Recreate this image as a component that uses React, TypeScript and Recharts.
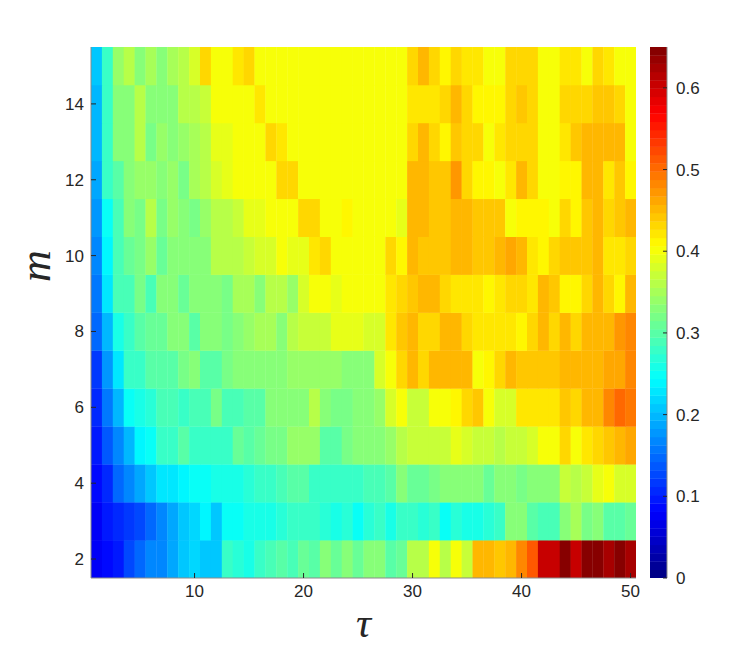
import { Label, Scatter, ScatterChart, XAxis, YAxis } from "recharts"

// lag τ along x, embedding dimension m along y
const TAU = [
  1, 2, 3, 4, 5, 6, 7, 8, 9, 10, 11, 12, 13, 14, 15, 16, 17, 18, 19, 20, 21, 22, 23, 24, 25,
  26, 27, 28, 29, 30, 31, 32, 33, 34, 35, 36, 37, 38, 39, 40, 41, 42, 43, 44, 45, 46, 47, 48, 49, 50,
]
const M = [2, 3, 4, 5, 6, 7, 8, 9, 10, 11, 12, 13, 14, 15]

// one row per m, values for τ = 1..50
const ROW_M15 = [
  0.21, 0.28, 0.345, 0.36, 0.335, 0.355, 0.325, 0.35, 0.365, 0.385, 0.43, 0.405, 0.405, 0.42, 0.43, 0.405, 0.405, 0.405, 0.405, 0.405, 0.405, 0.405, 0.405, 0.405, 0.405,
  0.405, 0.405, 0.405, 0.405, 0.43, 0.447, 0.43, 0.415, 0.435, 0.42, 0.42, 0.405, 0.405, 0.43, 0.43, 0.43, 0.405, 0.405, 0.425, 0.425, 0.405, 0.435, 0.42, 0.405, 0.405,
]
const ROW_M14 = [
  0.2, 0.28, 0.325, 0.33, 0.365, 0.335, 0.335, 0.325, 0.36, 0.36, 0.375, 0.405, 0.405, 0.405, 0.405, 0.42, 0.405, 0.405, 0.405, 0.405, 0.405, 0.405, 0.405, 0.405, 0.405,
  0.405, 0.405, 0.405, 0.405, 0.425, 0.425, 0.425, 0.435, 0.45, 0.43, 0.415, 0.415, 0.415, 0.43, 0.44, 0.43, 0.405, 0.405, 0.43, 0.43, 0.43, 0.437, 0.437, 0.43, 0.405,
]
const ROW_M13 = [
  0.2, 0.28, 0.325, 0.325, 0.365, 0.315, 0.34, 0.325, 0.345, 0.35, 0.365, 0.39, 0.39, 0.405, 0.405, 0.405, 0.43, 0.42, 0.405, 0.405, 0.405, 0.405, 0.405, 0.405, 0.405,
  0.405, 0.405, 0.405, 0.405, 0.43, 0.447, 0.43, 0.41, 0.44, 0.43, 0.43, 0.405, 0.42, 0.43, 0.43, 0.43, 0.405, 0.405, 0.425, 0.437, 0.447, 0.447, 0.447, 0.447, 0.405,
]
const ROW_M12 = [
  0.185, 0.28, 0.3, 0.325, 0.345, 0.345, 0.33, 0.34, 0.32, 0.35, 0.36, 0.385, 0.39, 0.405, 0.405, 0.405, 0.405, 0.43, 0.43, 0.405, 0.405, 0.405, 0.405, 0.405, 0.405,
  0.405, 0.405, 0.405, 0.405, 0.447, 0.447, 0.44, 0.44, 0.47, 0.43, 0.41, 0.41, 0.405, 0.425, 0.447, 0.43, 0.405, 0.405, 0.41, 0.41, 0.447, 0.447, 0.425, 0.437, 0.41,
]
const ROW_M11 = [
  0.175, 0.245, 0.29, 0.325, 0.315, 0.365, 0.32, 0.34, 0.325, 0.32, 0.34, 0.36, 0.36, 0.37, 0.39, 0.39, 0.405, 0.405, 0.405, 0.43, 0.43, 0.405, 0.405, 0.415, 0.405,
  0.405, 0.405, 0.405, 0.395, 0.447, 0.447, 0.437, 0.437, 0.455, 0.455, 0.437, 0.437, 0.437, 0.405, 0.415, 0.415, 0.415, 0.405, 0.43, 0.415, 0.437, 0.455, 0.43, 0.437, 0.447,
]
const ROW_M10 = [
  0.165, 0.24, 0.29, 0.31, 0.315, 0.34, 0.31, 0.325, 0.325, 0.325, 0.325, 0.36, 0.36, 0.365, 0.37, 0.38, 0.38, 0.405, 0.395, 0.395, 0.42, 0.43, 0.405, 0.405, 0.405,
  0.405, 0.405, 0.43, 0.415, 0.45, 0.44, 0.44, 0.44, 0.45, 0.45, 0.44, 0.44, 0.45, 0.46, 0.45, 0.425, 0.415, 0.43, 0.437, 0.437, 0.437, 0.455, 0.425, 0.425, 0.43,
]
const ROW_M9 = [
  0.155, 0.225, 0.285, 0.29, 0.315, 0.29, 0.33, 0.33, 0.31, 0.325, 0.325, 0.325, 0.32, 0.35, 0.35, 0.33, 0.36, 0.36, 0.345, 0.38, 0.405, 0.405, 0.39, 0.405, 0.405,
  0.405, 0.405, 0.42, 0.43, 0.437, 0.447, 0.447, 0.43, 0.425, 0.425, 0.425, 0.41, 0.425, 0.435, 0.435, 0.425, 0.447, 0.437, 0.415, 0.415, 0.43, 0.455, 0.43, 0.415, 0.457,
]
const ROW_M8 = [
  0.145, 0.2, 0.26, 0.275, 0.3, 0.31, 0.31, 0.33, 0.33, 0.3, 0.33, 0.33, 0.32, 0.325, 0.34, 0.35, 0.35, 0.33, 0.36, 0.375, 0.375, 0.375, 0.39, 0.395, 0.395,
  0.385, 0.385, 0.425, 0.437, 0.447, 0.435, 0.435, 0.447, 0.447, 0.43, 0.425, 0.425, 0.425, 0.425, 0.415, 0.43, 0.45, 0.435, 0.45, 0.435, 0.45, 0.457, 0.457, 0.47, 0.48,
]
const ROW_M7 = [
  0.12, 0.18, 0.225, 0.275, 0.275, 0.3, 0.3, 0.3, 0.315, 0.325, 0.3, 0.3, 0.315, 0.325, 0.325, 0.325, 0.33, 0.33, 0.34, 0.34, 0.34, 0.34, 0.34, 0.33, 0.33,
  0.325, 0.38, 0.405, 0.43, 0.447, 0.43, 0.447, 0.447, 0.455, 0.447, 0.405, 0.41, 0.43, 0.447, 0.44, 0.44, 0.44, 0.44, 0.45, 0.447, 0.447, 0.45, 0.465, 0.465, 0.48,
]
const ROW_M6 = [
  0.11, 0.155, 0.2, 0.245, 0.26, 0.27, 0.285, 0.29, 0.275, 0.29, 0.29, 0.315, 0.29, 0.285, 0.3, 0.3, 0.325, 0.325, 0.33, 0.33, 0.36, 0.33, 0.32, 0.32, 0.325,
  0.325, 0.34, 0.38, 0.405, 0.37, 0.37, 0.405, 0.405, 0.415, 0.43, 0.437, 0.405, 0.385, 0.385, 0.425, 0.425, 0.425, 0.425, 0.44, 0.43, 0.45, 0.455, 0.48, 0.5, 0.49,
]
const ROW_M5 = [
  0.095, 0.135, 0.17, 0.2, 0.24, 0.245, 0.275, 0.275, 0.3, 0.275, 0.28, 0.28, 0.28, 0.31, 0.3, 0.31, 0.32, 0.32, 0.34, 0.345, 0.345, 0.3, 0.3, 0.32, 0.325,
  0.33, 0.33, 0.34, 0.365, 0.375, 0.375, 0.37, 0.37, 0.39, 0.38, 0.375, 0.375, 0.36, 0.37, 0.37, 0.38, 0.4, 0.405, 0.43, 0.405, 0.42, 0.43, 0.437, 0.447, 0.46,
]
const ROW_M4 = [
  0.09, 0.11, 0.145, 0.17, 0.185, 0.21, 0.23, 0.23, 0.24, 0.245, 0.25, 0.26, 0.26, 0.26, 0.27, 0.275, 0.28, 0.29, 0.3, 0.3, 0.28, 0.275, 0.275, 0.275, 0.275,
  0.285, 0.29, 0.3, 0.325, 0.31, 0.31, 0.32, 0.33, 0.33, 0.33, 0.325, 0.31, 0.325, 0.325, 0.32, 0.325, 0.325, 0.33, 0.37, 0.36, 0.37, 0.39, 0.4, 0.38, 0.38,
]
const ROW_M3 = [
  0.08, 0.095, 0.11, 0.12, 0.13, 0.145, 0.165, 0.185, 0.205, 0.22, 0.24, 0.21, 0.245, 0.245, 0.26, 0.26, 0.26, 0.27, 0.275, 0.275, 0.275, 0.27, 0.26, 0.27, 0.245,
  0.27, 0.275, 0.26, 0.28, 0.275, 0.27, 0.275, 0.245, 0.27, 0.26, 0.26, 0.27, 0.275, 0.33, 0.33, 0.3, 0.29, 0.29, 0.33, 0.35, 0.32, 0.325, 0.3, 0.3, 0.31,
]
const ROW_M2 = [
  0.075, 0.085, 0.1, 0.13, 0.145, 0.165, 0.17, 0.185, 0.21, 0.22, 0.21, 0.21, 0.275, 0.27, 0.26, 0.275, 0.29, 0.3, 0.285, 0.31, 0.3, 0.33, 0.31, 0.325, 0.31,
  0.325, 0.325, 0.3, 0.31, 0.365, 0.365, 0.4, 0.365, 0.4, 0.37, 0.455, 0.455, 0.437, 0.455, 0.48, 0.515, 0.6, 0.6, 0.65, 0.6, 0.65, 0.65, 0.625, 0.64, 0.625,
]

const TAU_TICKS = [10, 20, 30, 40, 50]
const M_TICKS = [2, 4, 6, 8, 10, 12, 14]
const CBAR_TICKS = [0, 0.1, 0.2, 0.3, 0.4, 0.5, 0.6]
const V_MAX = 0.65
const N_COLORS = 64

const ROWS = [ROW_M2, ROW_M3, ROW_M4, ROW_M5, ROW_M6, ROW_M7, ROW_M8, ROW_M9, ROW_M10, ROW_M11, ROW_M12, ROW_M13, ROW_M14, ROW_M15]

// layout
const W = 747
const H = 651
const PLOT = { left: 91, top: 47, right: 636, bottom: 578 }
const CBAR = { left: 650, right: 667 }
const CELL_W = (PLOT.right - PLOT.left) / TAU.length
const CELL_H = (PLOT.bottom - PLOT.top) / M.length
const CBAR_H = (PLOT.bottom - PLOT.top) / N_COLORS

const BORDER = "#8a8a8a"
const INK = "#262626"
const TICK_FONT = { fill: INK, fontSize: 17, fontFamily: "'Liberation Sans', Arial, sans-serif" }

// matlab jet(64), indexed like imagesc with caxis [0, V_MAX]
function jet(v: number) {
  const idx = Math.max(0, Math.min(N_COLORS - 1, Math.floor((v / V_MAX) * N_COLORS)))
  const t = (idx + 0.5) / N_COLORS
  const ch = (c: number) => Math.round(255 * Math.max(0, Math.min(1, 1.5 - Math.abs(4 * t - c))))
  return `rgb(${ch(3)},${ch(2)},${ch(1)})`
}

const cells = M.flatMap((m, i) => TAU.map((tau, j) => ({ tau, m, v: ROWS[i][j] })))
const cbarCells = Array.from({ length: N_COLORS }, (_, i) => ({ x: 0.5, v: ((i + 0.5) / N_COLORS) * V_MAX }))

const HeatCell = (props: any) => {
  const { cx, cy, payload } = props
  if (cx == null || cy == null) return null
  return (
    <rect x={cx - CELL_W / 2} y={cy - CELL_H / 2} width={CELL_W + 0.35} height={CELL_H + 0.35} fill={jet(payload.v)} />
  )
}

const CbarCell = (props: any) => {
  const { cx, cy, payload } = props
  if (cx == null || cy == null) return null
  const w = CBAR.right - CBAR.left
  return <rect x={cx - w / 2} y={cy - CBAR_H / 2} width={w} height={CBAR_H + 0.35} fill={jet(payload.v)} />
}

export default function App() {
  return (
    <div style={{ position: "absolute", left: 0, top: 0, width: W, height: H, background: "#fff" }}>
      <div style={{ position: "absolute", left: 0, top: 0 }}>
        <ScatterChart width={W - 100} height={H} margin={{ top: PLOT.top, right: W - 100 - PLOT.right, bottom: H - PLOT.bottom - 30, left: 0 }}>
          <Scatter data={cells} dataKey="m" xAxisId="b" yAxisId="l" shape={HeatCell} isAnimationActive={false} zIndex={0} />
          <XAxis
            xAxisId="b"
            dataKey="tau"
            type="number"
            domain={[0.5, 50.5]}
            ticks={TAU_TICKS}
            allowDataOverflow
            height={30}
            tickSize={-5}
            tickMargin={12}
            axisLine={{ stroke: BORDER }}
            tickLine={{ stroke: INK }}
            tick={TICK_FONT}
          >
            <Label
              content={() => (
                <text x={(PLOT.left + PLOT.right) / 2} y={637} textAnchor="middle" fill={INK} fontSize={42} fontStyle="italic" fontFamily="'Liberation Serif', 'Times New Roman', serif">
                  τ
                </text>
              )}
            />
          </XAxis>
          <XAxis xAxisId="t" orientation="top" type="number" domain={[0.5, 50.5]} ticks={TAU_TICKS} allowDataOverflow height={0} tickSize={-5} tick={false} axisLine={{ stroke: BORDER }} tickLine={{ stroke: INK }} />
          <YAxis
            yAxisId="l"
            dataKey="m"
            type="number"
            domain={[1.5, 15.5]}
            ticks={M_TICKS}
            allowDataOverflow
            width={PLOT.left}
            tickSize={-5}
            tickMargin={12}
            axisLine={{ stroke: BORDER }}
            tickLine={{ stroke: INK }}
            tick={TICK_FONT}
          >
            <Label
              content={() => (
                <text x={0} y={0} transform="translate(50 266) rotate(-90)" textAnchor="middle" fill={INK} fontSize={44} fontStyle="italic" fontFamily="'Liberation Serif', 'Times New Roman', serif">
                  m
                </text>
              )}
            />
          </YAxis>
          <YAxis yAxisId="r" orientation="right" type="number" domain={[1.5, 15.5]} ticks={M_TICKS} allowDataOverflow width={0} tickSize={-5} tick={false} axisLine={{ stroke: BORDER }} tickLine={{ stroke: INK }} />
        </ScatterChart>
      </div>

      <div style={{ position: "absolute", left: CBAR.left, top: 0 }}>
        <ScatterChart width={W - CBAR.left} height={H} margin={{ top: PLOT.top, right: 0, bottom: H - PLOT.bottom, left: 0 }}>
          <Scatter data={cbarCells} dataKey="v" xAxisId="cb" yAxisId="cv" shape={CbarCell} isAnimationActive={false} zIndex={0} />
          <XAxis xAxisId="cb" dataKey="x" type="number" domain={[0, 1]} allowDataOverflow height={0} tick={false} tickLine={false} axisLine={{ stroke: BORDER }} />
          <XAxis xAxisId="ct" orientation="top" type="number" domain={[0, 1]} allowDataOverflow height={0} tick={false} tickLine={false} axisLine={{ stroke: BORDER }} />
          <YAxis yAxisId="cl" type="number" domain={[0, V_MAX]} allowDataOverflow width={0} tick={false} tickLine={false} axisLine={{ stroke: BORDER }} />
          <YAxis
            yAxisId="cv"
            dataKey="v"
            orientation="right"
            type="number"
            domain={[0, V_MAX]}
            ticks={CBAR_TICKS}
            allowDataOverflow
            width={W - CBAR.right}
            tickSize={-4}
            tickMargin={13}
            axisLine={{ stroke: BORDER }}
            tickLine={{ stroke: INK }}
            tick={TICK_FONT}
            tickFormatter={(v: number) => (v === 0 ? "0" : v.toFixed(1))}
          />
        </ScatterChart>
      </div>
    </div>
  )
}
